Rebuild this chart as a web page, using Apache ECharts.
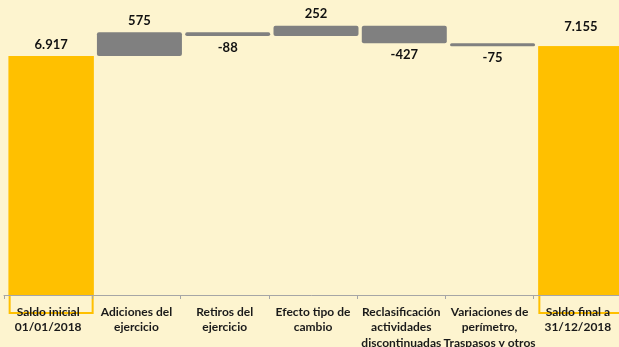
<!DOCTYPE html>
<html>
<head>
<meta charset="utf-8">
<script src="https://cdn.jsdelivr.net/npm/echarts@6/dist/echarts.min.js"></script>
<style>
  html, body { margin: 0; padding: 0; background: #FDF4CF; }
  #chart { width: 619px; height: 347px; }
</style>
</head>
<body>
<div id="chart"></div>
<script>
// Movimientos del ejercicio 2018
const categories = [
  'Saldo inicial\n01/01/2018',
  'Adiciones del\nejercicio',
  'Retiros del\nejercicio',
  'Efecto tipo de\ncambio',
  'Reclasificación\nactividades\ndiscontinuadas',
  'Variaciones de\nperímetro,\nTraspasos y otros',
  'Saldo final a\n31/12/2018'
];
const openingBalance = 6917;
const movements = [575, -88, 252, -427, -75];
const closingBalance = 7155;

// Thousands separator with a dot
function fmt(v) {
  const s = String(Math.abs(v)).replace(/\B(?=(\d{3})+(?!\d))/g, '.');
  return (v < 0 ? '-' : '') + s;
}

// Floating bars: invisible floor + visible step
const floorValues = [null];
const stepValues = [null];
let running = openingBalance;
movements.forEach(function (m) {
  const next = running + m;
  floorValues.push(Math.min(running, next));
  stepValues.push({
    value: Math.abs(m),
    label: { position: m < 0 ? 'bottom' : 'top', formatter: fmt(m) }
  });
  running = next;
});
floorValues.push(null);
stepValues.push(null);

const balances = [openingBalance, null, null, null, null, null, closingBalance];
const balanceData = balances.map(function (v, i) {
  if (v == null) return null;
  return { value: v, label: { distance: i === balances.length - 1 ? 13 : 5 } };
});
const frameData = [[0, openingBalance], [categories.length - 1, closingBalance]];

const BAR_W = 85;
const PLOT_W = 618;
const Y_MIN = 1100, Y_MAX = 8000;
const FONT = 'Lato, "Open Sans", sans-serif';

const chart = echarts.init(document.getElementById('chart'), null, { renderer: 'canvas' });
chart.setOption({
  backgroundColor: '#FDF4CF',
  animation: false,
  grid: [
    { left: 4, width: PLOT_W, top: 11.5, bottom: 52, outerBoundsMode: 'none', containLabel: false },
    { left: 7, width: PLOT_W, top: 11.5, bottom: 52, outerBoundsMode: 'none', containLabel: false }
  ],
  xAxis: [
    {
      type: 'category', gridIndex: 0, data: categories, z: 5,
      axisLine: { lineStyle: { color: '#A6A6A6', width: 1 } },
      axisTick: { show: true, length: 4, lineStyle: { color: '#A6A6A6' } },
      axisLabel: {
        interval: 0, margin: 9, color: '#1A1A1A', fontFamily: FONT,
        fontSize: 12, fontWeight: 'bold', lineHeight: 15.5
      }
    },
    { type: 'category', gridIndex: 1, data: categories, show: false }
  ],
  yAxis: [
    { type: 'value', gridIndex: 0, min: Y_MIN, max: Y_MAX, show: false, splitLine: { show: false } },
    { type: 'value', gridIndex: 1, min: Y_MIN, max: Y_MAX, show: false, splitLine: { show: false } }
  ],
  series: [
    {
      name: 'base', type: 'bar', stack: 'w', xAxisIndex: 1, yAxisIndex: 1,
      barWidth: BAR_W, itemStyle: { color: 'transparent' },
      data: floorValues, silent: true
    },
    {
      name: 'movimiento', type: 'bar', stack: 'w', xAxisIndex: 1, yAxisIndex: 1,
      barWidth: BAR_W,
      itemStyle: { color: '#808080', borderRadius: 2 },
      label: {
        show: true, color: '#111', fontFamily: FONT, fontSize: 13,
        fontWeight: 'bold', distance: 5
      },
      data: stepValues
    },
    {
      name: 'saldo', type: 'bar', stack: 'w', xAxisIndex: 1, yAxisIndex: 1,
      barWidth: BAR_W,
      itemStyle: { color: '#FFC000' },
      label: {
        show: true, position: 'top', color: '#111', fontFamily: FONT,
        fontSize: 13, fontWeight: 'bold',
        formatter: function (p) { return fmt(p.value); }
      },
      data: balanceData
    },
    {
      name: 'marco', type: 'custom', xAxisIndex: 1, yAxisIndex: 1,
      clip: false, silent: true, z: 2,
      renderItem: function (params, api) {
        const top = api.coord([api.value(0), api.value(1)]);
        const bottom = params.coordSys.y + params.coordSys.height + 18;
        return {
          type: 'rect',
          shape: { x: top[0] - BAR_W / 2 + 1, y: top[1] + 1, width: BAR_W - 2, height: bottom - top[1] - 1 },
          style: { fill: 'none', stroke: '#FFC000', lineWidth: 2 }
        };
      },
      data: frameData
    }
  ]
});
</script>
</body>
</html>
